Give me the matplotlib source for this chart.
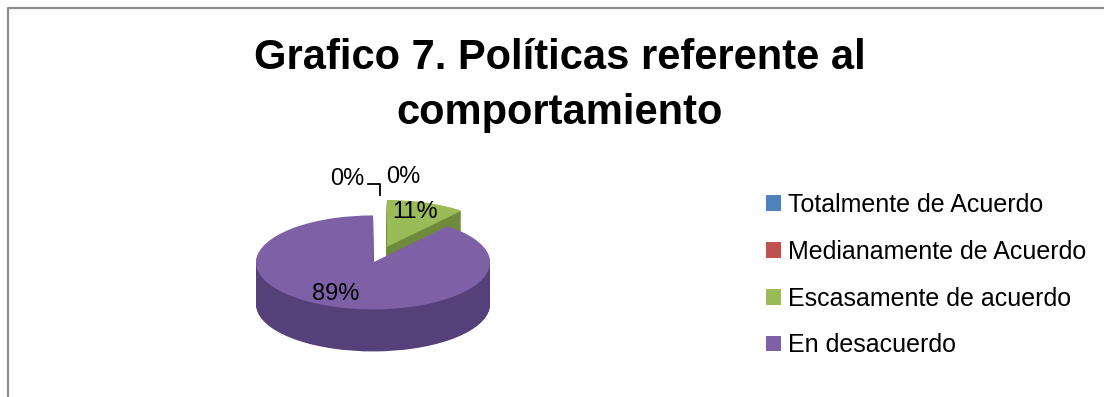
import numpy as np
import matplotlib
matplotlib.use("Agg")
import matplotlib.pyplot as plt

categories = ["Totalmente de Acuerdo", "Medianamente de Acuerdo",
              "Escasamente de acuerdo", "En desacuerdo"]
values = [0, 0, 11, 89]
pct_labels = ["0%", "0%", "11%", "89%"]

top_colors = ["#4f81bd", "#c0504d", "#9bbb59", "#7d60a6"]
side_colors = ["#3a6090", "#903c3a", "#6f8a3c", "#56407a"]
explode = [0.0, 0.0, 0.25, 0.1]

W, H = 1104, 397
plt.rcParams['font.family'] = ['Liberation Sans', 'DejaVu Sans']

fig = plt.figure(figsize=(W / 100, H / 100), dpi=100)
fig.patch.set_facecolor("white")

# pixel-space overlay for frame and text (kept above the pie)
bg = fig.add_axes([0, 0, 1, 1])
bg.set_xlim(0, W)
bg.set_ylim(H, 0)
bg.axis("off")
bg.set_zorder(3)
bg.plot([8, 8, W], [H, 8, 8], color="#8c8c8c", lw=1.6)

bg.text(560, 38, "Grafico 7. Políticas referente al\ncomportamiento",
        ha="center", va="top", fontsize=30, fontweight="bold",
        linespacing=1.48)

# pie axes: squashed so the circle reads as a tilted disc
cx, cy = 377, 258          # pie centre in pixels
rx, ry = 117, 47           # pixels per unit radius, horizontal / vertical
depth = 42 / ry
x0, x1, y0, y1 = 220, 540, 170, 385
ax = fig.add_axes([x0 / W, 1 - y1 / H, (x1 - x0) / W, (y1 - y0) / H])
ax.set_zorder(1)

for k in np.linspace(depth, 0.02, 45):
    ax.pie(values, colors=side_colors, startangle=90, counterclock=False,
           explode=explode, center=(0, -k), wedgeprops=dict(linewidth=0))
wedges, _ = ax.pie(values, colors=top_colors, startangle=90, counterclock=False,
                   explode=explode, center=(0, 0), wedgeprops=dict(linewidth=0))
ax.set_aspect("auto")
ax.set_xlim((x0 - cx) / rx, (x1 - cx) / rx)
ax.set_ylim(-(y1 - cy) / ry, (cy - y0) / ry)
ax.axis("off")

label_pos = [(347, 179), (403, 177), (415, 212), (336, 294)]
for txt, (px, py) in zip(pct_labels, label_pos):
    bg.text(px, py, txt, ha="center", va="center", fontsize=17)
bg.plot([368, 380, 380], [184, 184, 195], color="black", lw=1.3)

fig.legend(wedges, categories, loc="upper left",
           bbox_to_anchor=(766 / W, 1 - 193 / H), frameon=False,
           fontsize=18, handlelength=0.6, handleheight=0.6,
           handletextpad=0.3, labelspacing=0.91, borderpad=0,
           borderaxespad=0)

fig.savefig("out.png", dpi=100)
